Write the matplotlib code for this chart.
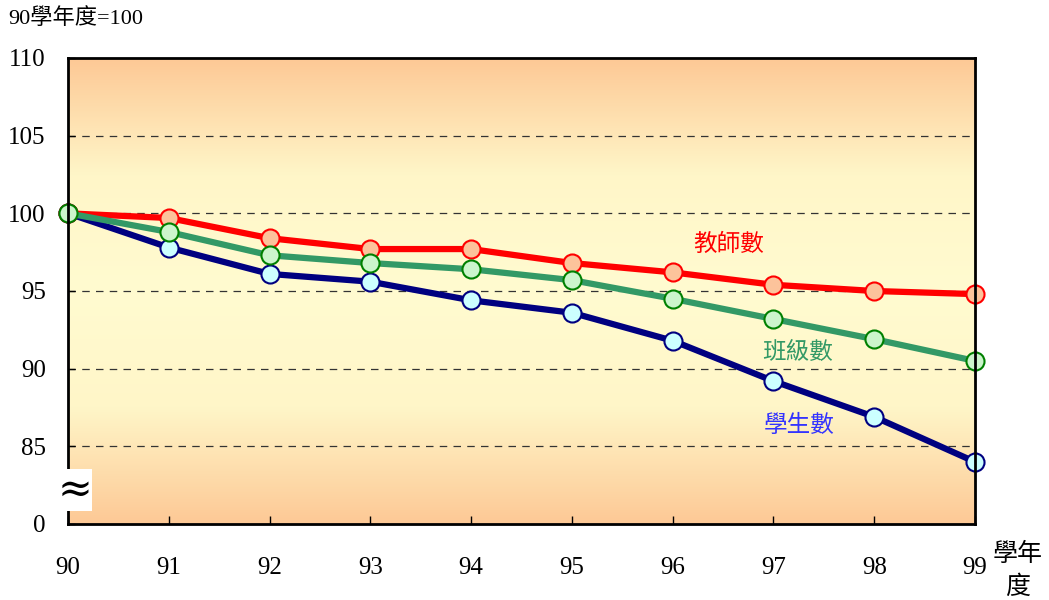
import numpy as np
import matplotlib.pyplot as plt
from matplotlib.colors import LinearSegmentedColormap

plt.rcParams['font.family'] = ['Liberation Serif', 'Noto Sans CJK TC']

years = [90, 91, 92, 93, 94, 95, 96, 97, 98, 99]
teachers = [100, 99.7, 98.4, 97.7, 97.7, 96.8, 96.2, 95.4, 95.0, 94.8]
classes = [100, 98.8, 97.3, 96.8, 96.4, 95.7, 94.5, 93.2, 91.9, 90.5]
students = [100, 97.8, 96.1, 95.6, 94.4, 93.6, 91.8, 89.2, 86.9, 84.0]
ytick_vals = [80, 85, 90, 95, 100, 105, 110]
ytick_labels = ['0', '85', '90', '95', '100', '105', '110']

fig = plt.figure(figsize=(10.49, 6), dpi=100)
ax = fig.add_axes([68 / 1049, 76 / 600, 907 / 1049, 466 / 600])
ax.set_xlim(90, 99)
ax.set_ylim(80, 110)

# background: orange at top and bottom, pale yellow in the middle
grad = np.abs(np.linspace(0, 1, 200) - 0.5).reshape(-1, 1) * 2
cmap = LinearSegmentedColormap.from_list('bg', ['#fffbd0', '#fff6c8', '#fdc996'])
ax.imshow(grad, cmap=cmap, aspect='auto', extent=[90, 99, 80, 110], zorder=0)

for v in [85, 90, 95, 100, 105]:
    ax.axhline(v, color='#333333', lw=0.9, ls=(0, (6, 5)), zorder=1)

ms = 13
ax.plot(years, students, color='#000080', lw=4.5, marker='o', ms=ms,
        mfc='#ccffff', mec='#000080', mew=1.5, zorder=2, clip_on=False)
ax.plot(years, teachers, color='#ff0000', lw=4.5, marker='o', ms=ms,
        mfc='#fcc39b', mec='#ff0000', mew=1.5, zorder=3, clip_on=False)
ax.plot(years, classes, color='#339966', lw=4.5, marker='o', ms=ms,
        mfc='#ccf5cc', mec='#008000', mew=1.5, zorder=4, clip_on=False)

ax.text(96.2, 98.0, '教師數', color='#ff0000', fontsize=17, ha='left', va='center')
ax.text(96.89, 91.0, '班級數', color='#339966', fontsize=17, ha='left', va='center')
ax.text(96.9, 86.3, '學生數', color='#3333ff', fontsize=17, ha='left', va='center')

ax.set_xticks(years)
ax.set_xticklabels([str(y) for y in years], fontsize=18)
ax.set_yticks(ytick_vals)
ax.set_yticklabels(ytick_labels, fontsize=18)
ax.tick_params(axis='x', direction='in', length=6, pad=24, width=1)
ax.tick_params(axis='y', direction='in', length=5, pad=16, width=1)
for s in ax.spines.values():
    s.set_linewidth(2)
    s.set_zorder(5)

fig.text(8 / 1049, 1 - 19 / 600, '90學年度=100', fontsize=16, ha='left', va='center')
fig.text(1018 / 1049, 1 - 554 / 600, '學年', fontsize=18, ha='center', va='center')
fig.text(1018 / 1049, 1 - 587 / 600, '度', fontsize=18, ha='center', va='center')
fig.text(75 / 1049, 1 - 490 / 600, '≈', fontsize=30, ha='center', va='center',
         family=['DejaVu Serif'], bbox=dict(facecolor='white', edgecolor='none', pad=0))

fig.savefig('out.png', dpi=100)
